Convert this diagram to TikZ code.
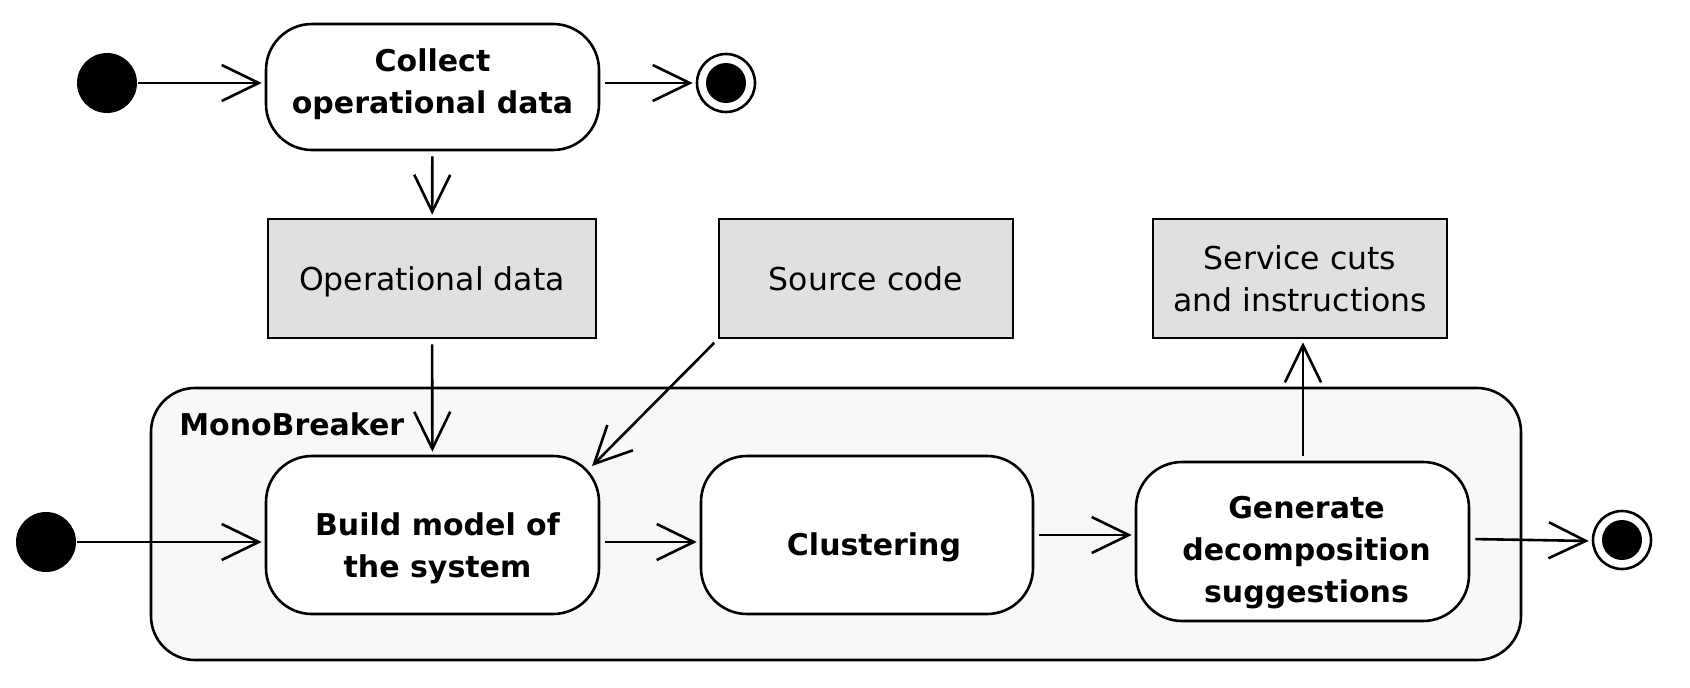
\documentclass[tikz,border=0pt]{standalone}
\usepackage{fontspec}
\setmainfont{DejaVu Sans}
\usetikzlibrary{arrows.meta}
\definecolor{objfill}{HTML}{E0E0E0}
\definecolor{contfill}{HTML}{F8F8F8}
\begin{document}
\begin{tikzpicture}[x=1pt,y=-1pt,
  every node/.style={line width=2.6pt},
  action/.style={draw, fill=white, rounded corners=46pt, inner sep=0pt},
  atext/.style={align=center, inner sep=0pt, font=\fontsize{30}{42}\selectfont\bfseries},
  otext/.style={align=center, inner sep=0pt, font=\fontsize{31.5}{42}\selectfont},
  objbox/.style={draw, fill=objfill, align=center, inner sep=0pt,
    font=\fontsize{31.5}{42}\selectfont},
  startdot/.style={circle, fill=black, minimum size=60pt, inner sep=0pt},
  enddot/.style={circle, draw, fill=white, minimum size=58pt, inner sep=0pt,
    path picture={\fill[black] (path picture bounding box.center) circle (20pt);}},
  flow/.style={line width=2.6pt, -{Straight Barb[length=37pt,width=36pt,line width=2.6pt]},
    shorten <=5pt, shorten >=3pt}
]
\useasboundingbox (0,0) rectangle (1690,688);
% container
\node[draw, fill=contfill, rounded corners=44pt, minimum width=1370pt, minimum height=272pt, inner sep=0pt] (mono) at (836,524) {};
\node[anchor=west, font=\fontsize{30}{42}\selectfont\bfseries, inner sep=0pt] (monolabel) at (178,424) {MonoBreaker};
% top row
\node[startdot] (s1) at (107,83) {};
\node[action, minimum width=333pt, minimum height=126pt,
  label={[atext, yshift=3pt]center:Collect\\operational data}] (collect) at (432.5,87) {};
\node[enddot] (e1) at (726,83) {};
% object row
\node[objbox, minimum width=328pt, minimum height=119pt,
  label={[otext, yshift=-3pt]center:Operational data}] (opdata) at (432,278.5) {};
\node[objbox, minimum width=294pt, minimum height=119pt] (source) at (866,278.5) {Source code};
\node[objbox, minimum width=294pt, minimum height=119pt] (service) at (1300,278.5) {Service cuts\\and instructions};
% bottom row
\node[startdot] (s2) at (46,542) {};
\node[action, minimum width=333pt, minimum height=158pt,
  label={[atext, yshift=-13pt, xshift=5pt]center:Build model of\\the system}] (build) at (432.5,535) {};
\node[action, minimum width=332pt, minimum height=158pt,
  label={[atext, yshift=-12pt, xshift=7pt]center:Clustering}] (clust) at (867,535) {};
\node[action, minimum width=333pt, minimum height=159pt,
  label={[atext, yshift=-11pt, xshift=4pt]center:Generate\\decomposition\\suggestions}] (gen) at (1302.5,541.5) {};
\node[enddot] (e2) at (1622,540) {};
\coordinate (srcend) at (592,466);
% connectors
\draw[flow, shorten <=0pt] (s1) -- (collect.west |- s1);
\draw[flow] (collect.east |- e1) -- (e1);
\draw[flow] (collect) -- (opdata);
\draw[flow] (opdata) -- (build);
\draw[flow, shorten >=0pt] (source.south west) -- (srcend);
\draw[flow, shorten <=0pt] (s2) -- (build.west |- s2);
\draw[flow] (build.east |- 0,542) -- (clust.west |- 0,542);
\draw[flow] (clust.east |- 0,535) -- (gen.west |- 0,535);
\draw[flow] (gen.east |- 0,539) -- (e2.west |- 0,541);
\draw[flow] (gen.north -| 1303,0) -- (service.south -| 1303,0);
\end{tikzpicture}
\end{document}
